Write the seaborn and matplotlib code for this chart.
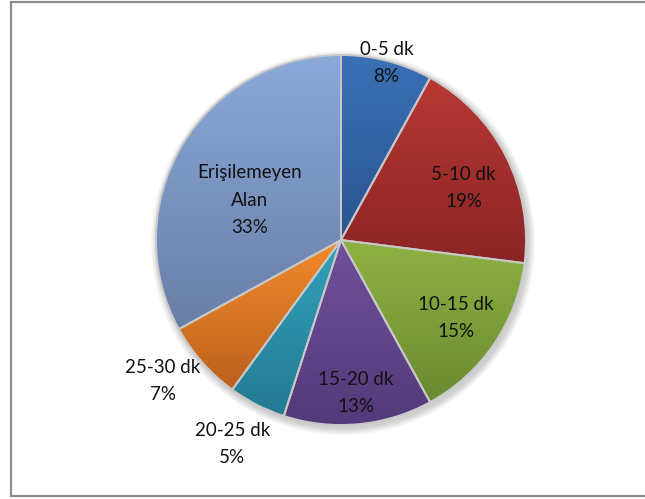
import numpy as np
import matplotlib
matplotlib.use("Agg")
import matplotlib.pyplot as plt
from matplotlib.colors import LinearSegmentedColormap
from matplotlib.patches import Circle
import seaborn as sns

# Travel-time bands and their share of the area
categories = ["0-5 dk", "5-10 dk", "10-15 dk", "15-20 dk", "20-25 dk", "25-30 dk", "Erişilemeyen\nAlan"]
shares = [8, 19, 15, 13, 5, 7, 33]

# Gradient colours per slice (top, bottom)
top_colors = ["#3b70b6", "#b83834", "#8fb243", "#70519a", "#32a2ba", "#f28a2a", "#8ba9d9"]
bottom_colors = ["#2a5590", "#8a2525", "#6a8a30", "#53397a", "#237a92", "#bb601e", "#687ea6"]

# Label placement as fraction of the radius, plus a small angular nudge (deg)
label_radius = [0.99, 0.72, 0.75, 0.83, 1.25, 1.23, 0.54]
label_nudge = [0, -4, 0, 0, -1, -3, 7]

sns.set_theme(style="white")
plt.rcParams["font.family"] = ["Lato", "DejaVu Sans"]

W, H = 645, 499
fig = plt.figure(figsize=(W / 100, H / 100), dpi=100)
ax = fig.add_axes([0, 0, 1, 1])

cx, cy, R = 341, 259, 185

# soft drop shadow beneath the pie
for k in range(8, 0, -1):
    ax.add_patch(Circle((cx + 2, cy - 3), R + k * 0.9, facecolor="#000000",
                        alpha=0.025, edgecolor="none", zorder=0))

wedges, _ = ax.pie(shares, startangle=90, counterclock=False,
                   center=(cx, cy), radius=R,
                   colors=top_colors,
                   wedgeprops=dict(edgecolor="#c8c8c8", linewidth=1.4))

# vertical gradient fill clipped to each wedge
grad = np.linspace(0, 1, 256).reshape(-1, 1)
for w, c_top, c_bot in zip(wedges, top_colors, bottom_colors):
    w.set_zorder(3)
    w.set_facecolor("none")
    verts = w.get_path().vertices
    trans_verts = w.get_patch_transform().transform(verts)
    x0, y0 = trans_verts.min(axis=0)
    x1, y1 = trans_verts.max(axis=0)
    cmap = LinearSegmentedColormap.from_list("g", [c_bot, c_top])
    im = ax.imshow(grad, cmap=cmap, extent=(x0, x1, y0, y1), origin="lower",
                   aspect="auto", interpolation="bilinear", zorder=2)
    im.set_clip_path(w)

# data labels
for w, name, val, rf, nud in zip(wedges, categories, shares, label_radius, label_nudge):
    ang = np.deg2rad((w.theta1 + w.theta2) / 2 + nud)
    x = cx + rf * R * np.cos(ang)
    y = cy + rf * R * np.sin(ang)
    ax.text(x, y, f"{name}\n{val}%", ha="center", va="center",
            fontsize=13.5, color="#111111", linespacing=1.72, zorder=5)

ax.set_xlim(0, W)
ax.set_ylim(0, H)
ax.set_aspect("equal")
ax.axis("off")

# chart frame
frame_kw = dict(color="#8c8c8c", linewidth=1.6, zorder=6, solid_capstyle="butt")
ax.plot([11, 11], [2, 498], **frame_kw)
ax.plot([11, W], [3, 3], **frame_kw)
ax.plot([11, W], [497.5, 497.5], **frame_kw)

fig.savefig("out.png", dpi=100)
